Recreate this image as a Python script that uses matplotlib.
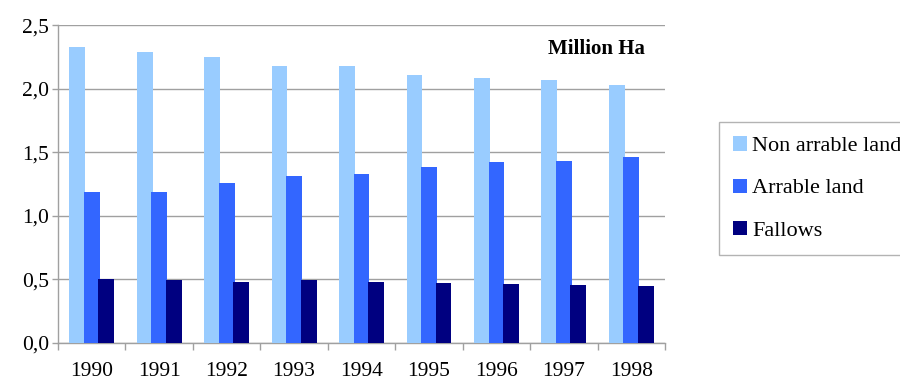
import numpy as np
import matplotlib.pyplot as plt
from matplotlib.ticker import FuncFormatter

years = ["1990", "1991", "1992", "1993", "1994", "1995", "1996", "1997", "1998"]
non_arrable = [2.33, 2.29, 2.25, 2.18, 2.18, 2.11, 2.08, 2.07, 2.03]
arrable = [1.19, 1.19, 1.26, 1.31, 1.33, 1.38, 1.42, 1.43, 1.46]
fallows = [0.50, 0.49, 0.48, 0.49, 0.48, 0.47, 0.46, 0.455, 0.45]

series = [("Non arrable land", non_arrable, "#99CCFF"),
          ("Arrable land", arrable, "#3366FF"),
          ("Fallows", fallows, "#000080")]

plt.rcParams['font.family'] = ['Liberation Serif', 'DejaVu Serif']

fig = plt.figure(figsize=(9, 3.81), dpi=100)
ax = fig.add_axes([0.0644, 0.1005, 0.6746, 0.8335])

x = np.arange(len(years))
w = 0.235
step = 0.215
for i, (name, vals, col) in enumerate(series):
    ax.bar(x + (i - 1) * step, vals, width=w, color=col, label=name, zorder=3)

ax.set_xlim(-0.5, len(years) - 0.5)
ax.set_ylim(0, 2.5)
ax.set_yticks(np.arange(0, 2.51, 0.5))
ax.yaxis.set_major_formatter(FuncFormatter(lambda v, p: f"{v:.1f}".replace(".", ",")))
ax.yaxis.grid(True, color="#a0a0a0", linewidth=1, zorder=0)

ax.set_xticks(x)
ax.set_xticklabels(years)
ax.set_xticks(np.arange(-0.5, len(years), 1), minor=True)
ax.tick_params(axis="x", which="major", length=0, pad=14, labelsize=15.5)
ax.tick_params(axis="x", which="minor", length=5, color="#a0a0a0", width=1)
ax.tick_params(axis="y", length=4.5, color="#a0a0a0", width=1, labelsize=15.5, pad=2)

for s in ["top", "right"]:
    ax.spines[s].set_visible(False)
for s in ["left", "bottom"]:
    ax.spines[s].set_color("#a0a0a0")
    ax.spines[s].set_linewidth(1)

ax.text(0.967, 0.924, "Million Ha", transform=ax.transAxes, ha="right", va="center",
        fontsize=15, fontweight="bold")

leg = fig.legend(loc="upper left", bbox_to_anchor=(719 / 900, 1 - 122 / 381), fontsize=16,
                 frameon=True, fancybox=False, edgecolor="#a0a0a0", handlelength=0.6,
                 handleheight=0.6, handletextpad=0.25, labelspacing=1.0, borderpad=0.65,
                 borderaxespad=0)
leg.get_frame().set_linewidth(1)

fig.savefig("out.png", dpi=100)
